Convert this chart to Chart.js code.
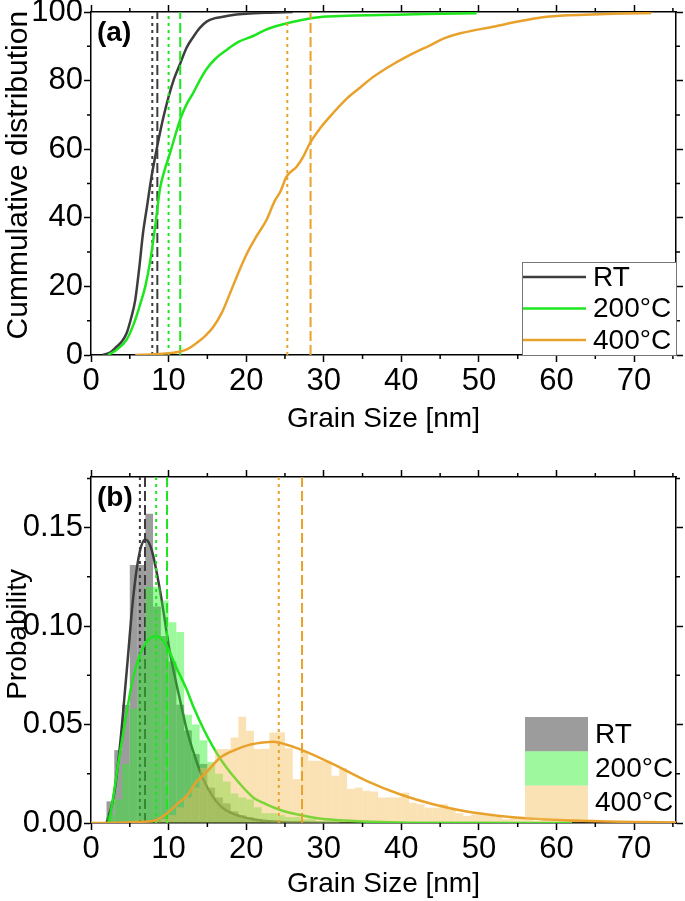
<!DOCTYPE html>
<html>
<head>
<meta charset="utf-8">
<script src="https://cdn.jsdelivr.net/npm/chart.js@4.4.1/dist/chart.umd.min.js"></script>
<style>
  html, body { margin: 0; padding: 0; background: #fff; }
  .box { position: relative; width: 685px; }
</style>
</head>
<body>
<div class="box" style="height:450px"><canvas id="chartA"></canvas></div>
<div class="box" style="height:451px"><canvas id="chartB"></canvas></div>
<script>
const seriesNames = ["RT", "200°C", "400°C"];
const lineColors = ["#3d3d3d", "#1ee61e", "#e8a22c"];
const histColors = ["rgba(95,95,95,0.62)", "rgba(40,240,40,0.45)", "rgba(245,190,90,0.45)"];
const xMax = 75.4;

// (a) cumulative distribution [%] against grain size [nm]
const cdfRtX = [1.5, 2.5, 3.3, 4.0, 4.6, 5.2, 5.7, 6.2, 6.7, 7.2, 7.8, 8.7, 9.3, 10, 10.7, 11.5, 12.3, 13.2, 14, 14.9, 16, 17, 18.5, 20, 23, 26];
const cdfRtY = [0, 0.8, 2.4, 4, 6.4, 11, 16, 25, 35.5, 43, 52, 62.7, 69, 75.3, 80.5, 85, 89.5, 92.8, 95.3, 97.2, 98.2, 98.6, 99.2, 99.5, 99.8, 100];
const cdf200X = [2.2, 3.3, 4.6, 5.5, 6.3, 7, 7.6, 8.3, 8.9, 9.5, 10.2, 11.5, 12.3, 13.2, 14, 14.9, 16, 17.5, 19, 20.9, 22.5, 24.4, 27, 29.9, 33, 37.2, 43, 49.7];
const cdf200Y = [0, 1.5, 4.5, 9, 14.5, 20, 27, 38, 48.6, 54, 59, 68.7, 73, 76.5, 80, 83.4, 86.3, 89, 91.3, 93, 94.8, 96.2, 97.6, 98.6, 98.9, 99.1, 99.4, 99.6];
const cdf400X = [5.7, 8, 11.5, 12.5, 13.6, 14.7, 15.8, 16.9, 17.9, 19, 20.1, 21.3, 22.6, 23.7, 24.4, 25.2, 26.5, 27.4, 28.2, 29.5, 30.8, 33, 34.7, 36.4, 38.5, 40.7, 43.7, 45.5, 47.6, 51.8, 55.7, 58, 60.4, 67.3, 72.2];
const cdf400Y = [0, 0.2, 1, 1.8, 3.5, 5.5, 8.3, 12.5, 17.9, 24, 29.6, 34.5, 39.3, 45, 47.6, 52, 54.9, 58, 61.7, 66, 69.5, 74.8, 78, 81.1, 84.2, 87, 90.3, 92.3, 93.8, 95.7, 97.5, 98.4, 98.9, 99.5, 99.7];
const dottedA = [7.9, 10.0, 25.3];
const dashedA = [8.55, 11.5, 28.3];

// (b) probability histograms, 1 nm bins starting at the given size
const rtStart = 2;
const rtProb = [0.011, 0.037, 0.060, 0.131, 0.131, 0.157, 0.110, 0.095, 0.082, 0.060, 0.047, 0.035, 0.030, 0.018, 0.013, 0.010, 0.006, 0.004, 0.003, 0.002, 0.001];
const p200Start = 2;
const p200Prob = [0.004, 0.012, 0.030, 0.058, 0.085, 0.120, 0.120, 0.113, 0.102, 0.097, 0.055, 0.050, 0.042, 0.031, 0.025, 0.021, 0.015, 0.013, 0.012, 0.008, 0.005, 0.005, 0.004, 0.003, 0.003, 0.002, 0.002, 0.001, 0.002, 0.001, 0.001, 0.001, 0.0005, 0.001, 0.0005, 0.0005, 0.0005, 0.0005];
const p400Start = 7;
const p400Prob = [0.0005, 0.001, 0.002, 0.004, 0.008, 0.013, 0.018, 0.028, 0.030, 0.0376, 0.0376, 0.0434, 0.054, 0.0468, 0.0376, 0.0376, 0.046, 0.046, 0.038, 0.0223, 0.0366, 0.0316, 0.0316, 0.0316, 0.024, 0.028, 0.0173, 0.018, 0.0163, 0.016, 0.0129, 0.013, 0.013, 0.0154, 0.0103, 0.0095, 0.0078, 0.0078, 0.0095, 0.007, 0.005, 0.0036, 0.0044, 0.005, 0.0036, 0.003, 0.002, 0.003, 0.002, 0.002, 0.001, 0.002, 0.001, 0.0015, 0.001, 0.002, 0.001, 0.001, 0.0005, 0.001, 0.0005, 0.0005, 0.001, 0.0005, 0.0005, 0.0005, 0.0005, 0.0005];

// (b) fitted curves
const fitRtX = [2.0, 2.9, 3.7, 4.6, 5.45, 6.3, 7.0, 7.8, 8.9, 10.2, 11.5, 12.3, 13.2, 14.5, 16.6, 19.2, 22.6, 27, 32];
const fitRtY = [0, 0.013, 0.038, 0.077, 0.115, 0.138, 0.144, 0.139, 0.118, 0.086, 0.062, 0.048, 0.036, 0.022, 0.009, 0.0035, 0.001, 0.0002, 0];
const fit200X = [2.3, 2.9, 3.5, 4.2, 5.45, 6.7, 7.5, 8.4, 9.2, 10, 11, 12.3, 13.2, 14.6, 16.6, 18.3, 20.9, 22.6, 24.5, 26.5, 29, 31.2, 35, 40, 50, 62];
const fit200Y = [0, 0.014, 0.030, 0.047, 0.074, 0.089, 0.0935, 0.095, 0.093, 0.088, 0.079, 0.068, 0.059, 0.047, 0.033, 0.024, 0.013, 0.0095, 0.0065, 0.0044, 0.0025, 0.0016, 0.0008, 0.0003, 0.0001, 0];
const fit400X = [0, 8, 9.5, 11.5, 12.3, 13.6, 14.7, 16.6, 18.5, 20.5, 22.5, 23.5, 25, 26.9, 31.2, 35.5, 39.8, 44.1, 48.4, 52.7, 57, 63.4, 70, 75.4];
const fit400Y = [0, 0.001, 0.004, 0.011, 0.0135, 0.021, 0.025, 0.033, 0.037, 0.0398, 0.041, 0.0412, 0.040, 0.0375, 0.0299, 0.0214, 0.0146, 0.0095, 0.0058, 0.0036, 0.0022, 0.0011, 0.0005, 0.0003];
const dottedB = [6.3, 8.4, 24.2];
const dashedB = [6.96, 9.8, 27.2];

const FONT = 'Arial, "Liberation Sans", sans-serif';
Chart.defaults.font.family = FONT;
Chart.defaults.color = "#000";
Chart.defaults.animation = false;

function points(xs, ys) {
    return xs.map((x, i) => ({ x: x, y: ys[i] }));
}
function bins(start, probs) {
    return probs.map((p, i) => ({ x: start + i + 0.5, y: p }));
}
function curve(xs, ys, k, order) {
    return { type: "line", data: points(xs, ys), borderColor: lineColors[k], borderWidth: 2.5, pointRadius: 0, cubicInterpolationMode: "monotone", order: order };
}
function vline(x, top, k, dash, order) {
    return { type: "line", data: [{ x: x, y: 0 }, { x: x, y: top }], borderColor: lineColors[k], borderWidth: 2, borderDash: dash, pointRadius: 0, order: order };
}
function hist(start, probs, k, order) {
    return { type: "bar", data: bins(start, probs), backgroundColor: histColors[k], borderWidth: 0, barPercentage: 1, categoryPercentage: 1, grouped: false, inflateAmount: 0, order: order };
}

function scalesFor(yMax, yStep, yFmt, yTitle, yTitleSize, xHeight, titlePad) {
    const grid = { drawOnChartArea: false, tickLength: 7, tickWidth: 1.5, tickColor: "#000", offset: false };
    const border = { color: "#000", width: 1.5 };
    const tickFont = { size: 31 };
    const noPad = (s) => { s.paddingTop = 0; s.paddingBottom = 0; s.paddingLeft = 0; s.paddingRight = 0; };
    return {
        x: {
            type: "linear", min: 0, max: xMax, offset: false, grid: grid, border: border,
            ticks: { stepSize: 10, includeBounds: false, autoSkip: false, maxRotation: 0, padding: 1, font: tickFont },
            title: { display: true, text: "Grain Size [nm]", font: { size: 28 }, padding: { top: 0, bottom: titlePad } },
            afterFit: (s) => { s.height = xHeight; noPad(s); },
        },
        x2: {
            type: "linear", position: "top", min: 0, max: xMax, offset: false, grid: grid, border: border,
            ticks: { display: false, stepSize: 10, includeBounds: false },
            afterFit: noPad,
        },
        y: {
            type: "linear", min: 0, max: yMax, grid: grid, border: border,
            ticks: { stepSize: yStep, includeBounds: false, padding: 1, font: tickFont, callback: yFmt },
            title: { display: true, text: yTitle, font: { size: yTitleSize }, padding: { top: 1, bottom: 0 } },
            afterFit: (s) => { s.width = 91; noPad(s); },
        },
        y2: {
            type: "linear", position: "right", min: 0, max: yMax, grid: grid, border: border,
            ticks: { display: false, stepSize: yStep, includeBounds: false },
            afterFit: noPad,
        },
    };
}

function decorate(letter, yMinor, drawLegend) {
    return {
        id: "decorate",
        afterDraw(chart) {
            const { ctx, chartArea: a, scales } = chart;
            ctx.save();
            // short minor ticks on all four sides
            ctx.strokeStyle = "#000";
            ctx.lineWidth = 1.5;
            ctx.beginPath();
            for (let v = 5; v < scales.x.max; v += 10) {
                const px = scales.x.getPixelForValue(v);
                ctx.moveTo(px, a.bottom); ctx.lineTo(px, a.bottom + 4);
                ctx.moveTo(px, a.top); ctx.lineTo(px, a.top - 4);
            }
            for (let v = yMinor; v < scales.y.max; v += 2 * yMinor) {
                const py = scales.y.getPixelForValue(v);
                ctx.moveTo(a.left, py); ctx.lineTo(a.left - 4, py);
                ctx.moveTo(a.right, py); ctx.lineTo(a.right + 4, py);
            }
            ctx.stroke();
            ctx.fillStyle = "#000";
            ctx.textBaseline = "middle";
            ctx.font = "bold 28px " + FONT;
            ctx.fillText(letter, a.left + 6, a.top + 21);
            drawLegend(ctx, a);
            ctx.restore();
        },
    };
}

function legendLines(ctx, a) {
    const x0 = a.right - 154, y0 = a.bottom - 93;
    ctx.fillStyle = "#fff";
    ctx.fillRect(x0, y0, 154, 93);
    ctx.strokeStyle = "#777";
    ctx.lineWidth = 1;
    ctx.strokeRect(x0 + 0.5, y0 + 0.5, 154, 93);
    ctx.font = "28px " + FONT;
    seriesNames.forEach((name, k) => {
        const y = y0 + 15 + k * 31.5;
        ctx.strokeStyle = lineColors[k];
        ctx.lineWidth = 2.5;
        ctx.beginPath();
        ctx.moveTo(x0 + 1, y);
        ctx.lineTo(x0 + 64, y);
        ctx.stroke();
        ctx.fillStyle = "#000";
        ctx.fillText(name, x0 + 71, y + 1);
    });
}

function legendPatches(ctx, a) {
    const x0 = a.right - 151, y0 = a.bottom - 106;
    ctx.font = "28px " + FONT;
    seriesNames.forEach((name, k) => {
        const y = y0 + k * 34.3;
        ctx.fillStyle = histColors[k];
        ctx.fillRect(x0, y, 63, 34.3);
        ctx.fillStyle = "#000";
        ctx.fillText(name, x0 + 70, y + 18);
    });
}

new Chart(document.getElementById("chartA"), {
    type: "line",
    data: {
        datasets: [
            curve(cdfRtX, cdfRtY, 0, 6),
            vline(dottedA[0], 100, 0, [3, 4], 5),
            vline(dashedA[0], 100, 0, [10, 4], 5),
            curve(cdf200X, cdf200Y, 1, 4),
            vline(dottedA[1], 100, 1, [3, 4], 3),
            vline(dashedA[1], 100, 1, [10, 4], 3),
            curve(cdf400X, cdf400Y, 2, 2),
            vline(dottedA[2], 100, 2, [3, 4], 1),
            vline(dashedA[2], 100, 2, [10, 4], 1),
        ],
    },
    options: {
        responsive: true,
        maintainAspectRatio: false,
        layout: { padding: { left: 0, right: 2, top: 5, bottom: 0 } },
        plugins: { legend: { display: false }, tooltip: { enabled: false } },
        scales: scalesFor(100, 20, (v) => v, "\u00a0\u00a0Cummulative distribution", 30, 95, 14),
    },
    plugins: [decorate("(a)", 10, legendLines)],
});

const topB = 0.1757;
new Chart(document.getElementById("chartB"), {
    type: "bar",
    data: {
        datasets: [
            hist(rtStart, rtProb, 0, 9),
            curve(fitRtX, fitRtY, 0, 8),
            vline(dottedB[0], topB, 0, [3, 4], 7),
            vline(dashedB[0], topB, 0, [10, 4], 7),
            hist(p200Start, p200Prob, 1, 6),
            curve(fit200X, fit200Y, 1, 5),
            vline(dottedB[1], topB, 1, [3, 4], 4),
            vline(dashedB[1], topB, 1, [10, 4], 4),
            hist(p400Start, p400Prob, 2, 3),
            curve(fit400X, fit400Y, 2, 2),
            vline(dottedB[2], topB, 2, [3, 4], 1),
            vline(dashedB[2], topB, 2, [10, 4], 1),
        ],
    },
    options: {
        responsive: true,
        maintainAspectRatio: false,
        layout: { padding: { left: 0, right: 2, top: 20, bottom: 0 } },
        plugins: { legend: { display: false }, tooltip: { enabled: false } },
        scales: scalesFor(topB, 0.05, (v) => v.toFixed(2), "\u00a0\u00a0\u00a0\u00a0Probability", 28, 78, 0),
    },
    plugins: [decorate("(b)", 0.025, legendPatches)],
});
</script>
</body>
</html>
